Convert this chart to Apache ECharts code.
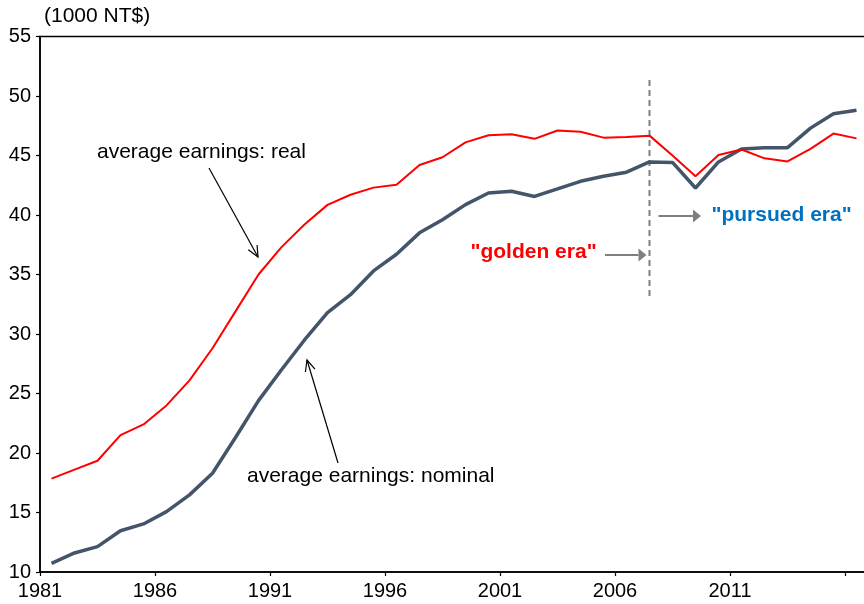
<!DOCTYPE html>
<html><head><meta charset="utf-8">
<script src="https://cdn.jsdelivr.net/npm/echarts@6/dist/echarts.min.js"></script>
<style>html,body{margin:0;padding:0;background:#fff}#c{width:864px;height:604px}</style>
</head><body><div id="c"></div>
<script>
const years = [1981,1982,1983,1984,1985,1986,1987,1988,1989,1990,
  1991,1992,1993,1994,1995,1996,1997,1998,1999,2000,
  2001,2002,2003,2004,2005,2006,2007,2008,2009,2010,
  2011,2012,2013,2014,2015,2016];
const realEarnings = [17.85,18.6,19.35,21.5,22.4,24.0,26.1,28.8,31.9,35.0,
  37.3,39.2,40.85,41.7,42.3,42.55,44.2,44.85,46.1,46.7,
  46.78,46.4,47.1,47.0,46.5,46.56,46.67,45.0,43.25,45.05,
  45.5,44.76,44.5,45.55,46.84,46.44];
const nominalEarnings = [10.73,11.6,12.13,13.47,14.04,15.07,16.48,18.3,21.3,24.4,
  27.0,29.5,31.8,33.3,35.3,36.7,38.5,39.6,40.87,41.85,
  42.0,41.56,42.19,42.83,43.25,43.6,44.46,44.42,42.27,44.46,
  45.55,45.66,45.66,47.3,48.5,48.8];
const xTickLabels = [1981,1986,1991,1996,2001,2006,2011];
const yMin = 10, yMax = 55, yStep = 5;
const eraBreakYear = 2007;

const FONT = '"Liberation Sans", Arial, Helvetica, sans-serif';
const chart = echarts.init(document.getElementById('c'), null, {renderer:'canvas'});

function arrow(x1,y1,x2,y2,color,lw,filled,hl,hh){
  const L = Math.hypot(x2-x1,y2-y1), ux=(x2-x1)/L, uy=(y2-y1)/L;
  const nx=-uy, ny=ux;
  const bx=x2-ux*hl, by=y2-uy*hl;
  const p1=[bx+nx*hh, by+ny*hh], p2=[bx-nx*hh, by-ny*hh];
  const els=[{type:'line', silent:true, shape:{x1:x1,y1:y1,x2:filled?bx:x2,y2:filled?by:y2},
    style:{stroke:color,lineWidth:lw}}];
  if(filled){
    els.push({type:'polygon', silent:true, shape:{points:[p1,[x2,y2],p2]}, style:{fill:color}});
  } else {
    els.push({type:'polyline', silent:true, shape:{points:[p1,[x2,y2],p2]}, style:{stroke:color,lineWidth:lw,fill:null}});
  }
  return els;
}
function txt(x,y,t,color,bold){
  return {type:'text', silent:true, style:{x:x,y:y,text:t,fill:color,
    font:(bold?'bold ':'')+'21px '+FONT, align:'left', verticalAlign:'middle'}};
}

chart.setOption({
  animation:false,
  backgroundColor:'#fff',
  grid:{left:40,right:-4,top:36.5,bottom:32,containLabel:false,outerBoundsMode:'none',
    show:true,borderColor:'#000',borderWidth:1.5,backgroundColor:'transparent'},
  xAxis:{type:'value',min:1981,max:2017,interval:5,
    axisLine:{show:true,lineStyle:{color:'#000',width:1.5}},
    axisTick:{show:true,length:4,lineStyle:{color:'#000',width:1.2}},
    splitLine:{show:false},
    axisLabel:{color:'#000',fontSize:20,fontFamily:FONT,margin:9,
      formatter:v=> xTickLabels.indexOf(v)>=0 ? String(v) : ''}},
  yAxis:{type:'value',min:yMin,max:yMax,interval:yStep,
    axisLine:{show:true,lineStyle:{color:'#000',width:1.5}},
    axisTick:{show:true,length:4,lineStyle:{color:'#000',width:1.2}},
    splitLine:{show:false},
    axisLabel:{color:'#000',fontSize:20,fontFamily:FONT,margin:9}},
  series:[
    {name:'average earnings: nominal',type:'line',symbol:'none',
      data:years.map((y,i)=>[y+0.5,nominalEarnings[i]]),
      lineStyle:{color:'#44546A',width:3.5},z:2},
    {name:'average earnings: real',type:'line',symbol:'none',
      data:years.map((y,i)=>[y+0.5,realEarnings[i]]),
      lineStyle:{color:'#FF0000',width:2},z:3}
  ]
});

const bx = chart.convertToPixel({gridIndex:0},[eraBreakYear+0.5,yMin])[0];
let g = [];
g.push({type:'line',silent:true,shape:{x1:bx,y1:80,x2:bx,y2:300},
  style:{stroke:'#7F7F7F',lineWidth:2,lineDash:[6,4]}});
g.push(txt(44,16.6,'(1000 NT$)','#000',false));
g.push(txt(97,152,'average earnings: real','#000',false));
g.push(txt(247,476,'average earnings: nominal','#000',false));
g.push(txt(470.5,252,'"golden era"','#FF0000',true));
g.push(txt(711.5,215,'"pursued era"','#0070C0',true));
g = g.concat(arrow(209,168,258,257,'#000',1.2,false,11,5));
g = g.concat(arrow(338,463,307,360,'#000',1.2,false,11,5));
g = g.concat(arrow(605,255,bx-3,255,'#7F7F7F',2,true,8,6.5));
g = g.concat(arrow(bx+9,216,701,216,'#7F7F7F',2,true,8,6.5));
chart.setOption({graphic:{elements:g}});
</script>
</body></html>
